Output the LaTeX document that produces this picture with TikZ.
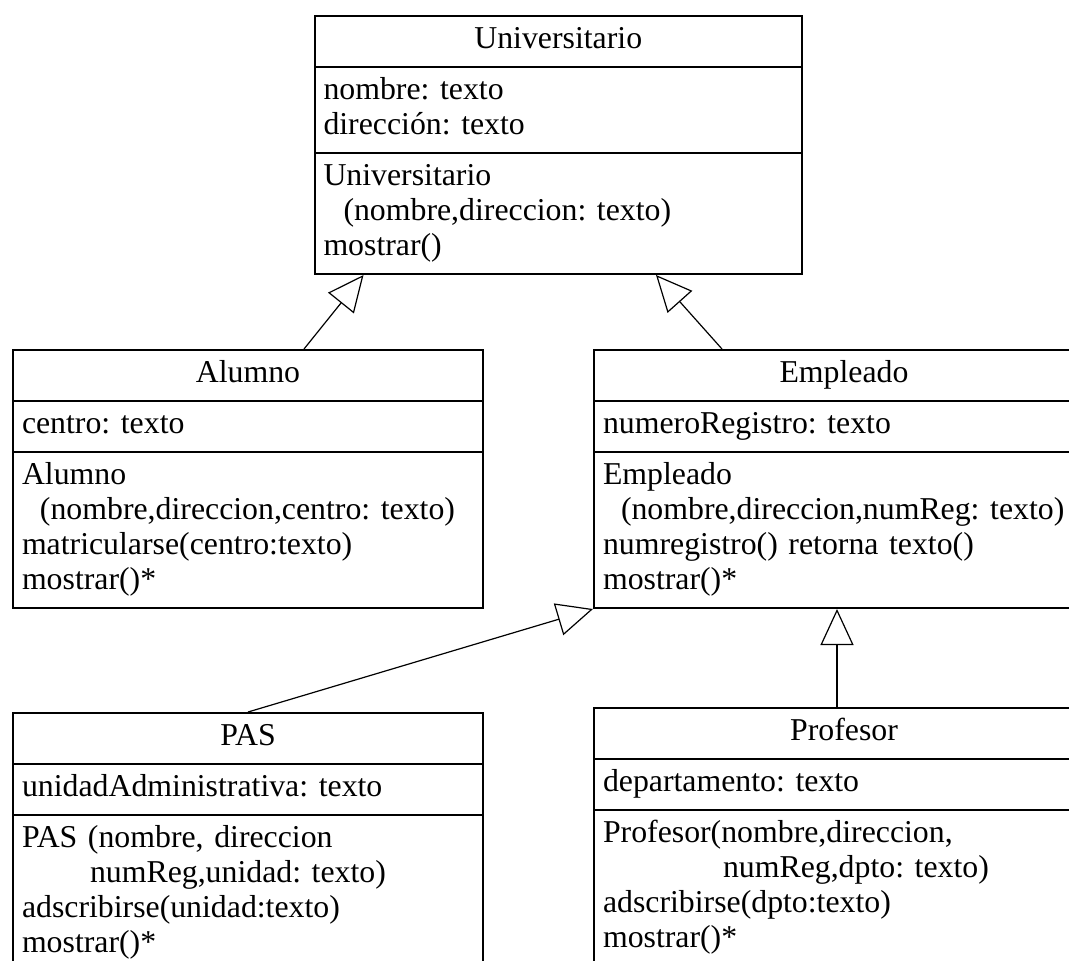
\documentclass[tikz,border=0pt]{standalone}
\usepackage{fontspec}
\setmainfont{Liberation Serif}
\frenchspacing
\usepackage{tikz}
\usetikzlibrary{arrows.meta,positioning,shapes.multipart}
\newcommand{\clasefont}{\fontsize{15.9}{17.5}\selectfont}
\newcommand{\sangria}[1]{\hspace*{#1}}
\tikzset{
  clase/.style={rectangle split, rectangle split parts=3, draw, line width=1pt,
    anchor=north west, inner xsep=4.5pt, inner ysep=3.5pt, align=left,
    font=\clasefont, execute at begin node=\strut, execute at end node=\strut},
  hereda/.style={-{Triangle[open,length=18pt,width=16.5pt]}, line width=0.6pt},
}

\begin{document}
\begin{tikzpicture}[x=0.5pt, y=-0.5pt]
    \path[use as bounding box, fill=white] (0,0) rectangle (1069,960);
    % Superclase
    \node[clase, text width=234.75pt] (uni) at (313.5,15)
      {\hfill Universitario\hfill\null
       \nodepart{second} nombre: texto\\dirección: texto
       \nodepart{third} Universitario\\\sangria{10pt}(nombre,direccion: texto)\\mostrar()};
    % Subclases
    \node[clase, text width=226pt] (alumno) at (12,349)
      {\hfill Alumno\hfill\null
       \nodepart{second} centro: texto
       \nodepart{third} Alumno\\\sangria{9pt}(nombre,direccion,centro: texto)\\matricularse(centro:texto)\\mostrar()*};
    \node[clase, text width=241pt] (empleado) at (593,349)
      {\hfill Empleado\hfill\null
       \nodepart{second} numeroRegistro: texto
       \nodepart{third} Empleado\\\sangria{9pt}(nombre,direccion,numReg: texto)\\numregistro() retorna texto()\\mostrar()*};
    % Subclases de Empleado
    \node[clase, text width=226pt] (pas) at (12,712)
      {\hfill PAS\hfill\null
       \nodepart{second} unidadAdministrativa: texto
       \nodepart{third} PAS (nombre, direccion\\\sangria{34pt}numReg,unidad: texto)\\adscribirse(unidad:texto)\\mostrar()*};
    \node[clase, text width=241pt] (profesor) at (593,707)
      {\hfill Profesor\hfill\null
       \nodepart{second} departamento: texto
       \nodepart{third} Profesor(nombre,direccion,\\\sangria{60pt}numReg,dpto: texto)\\adscribirse(dpto:texto)\\mostrar()*};
    % Herencia
    \coordinate (prof-sup) at ([xshift=122pt]profesor.north west);
    \draw[hereda] ([xshift=28pt]alumno.north) -- ([xshift=25pt]uni.south west);
    \draw[hereda] ([xshift=64.5pt]empleado.north west) -- ([xshift=-73.5pt]uni.south east);
    \draw[hereda] (pas.north) -- (empleado.south west);
    \draw[hereda] (prof-sup) -- (prof-sup |- empleado.south);
\end{tikzpicture}
\end{document}
